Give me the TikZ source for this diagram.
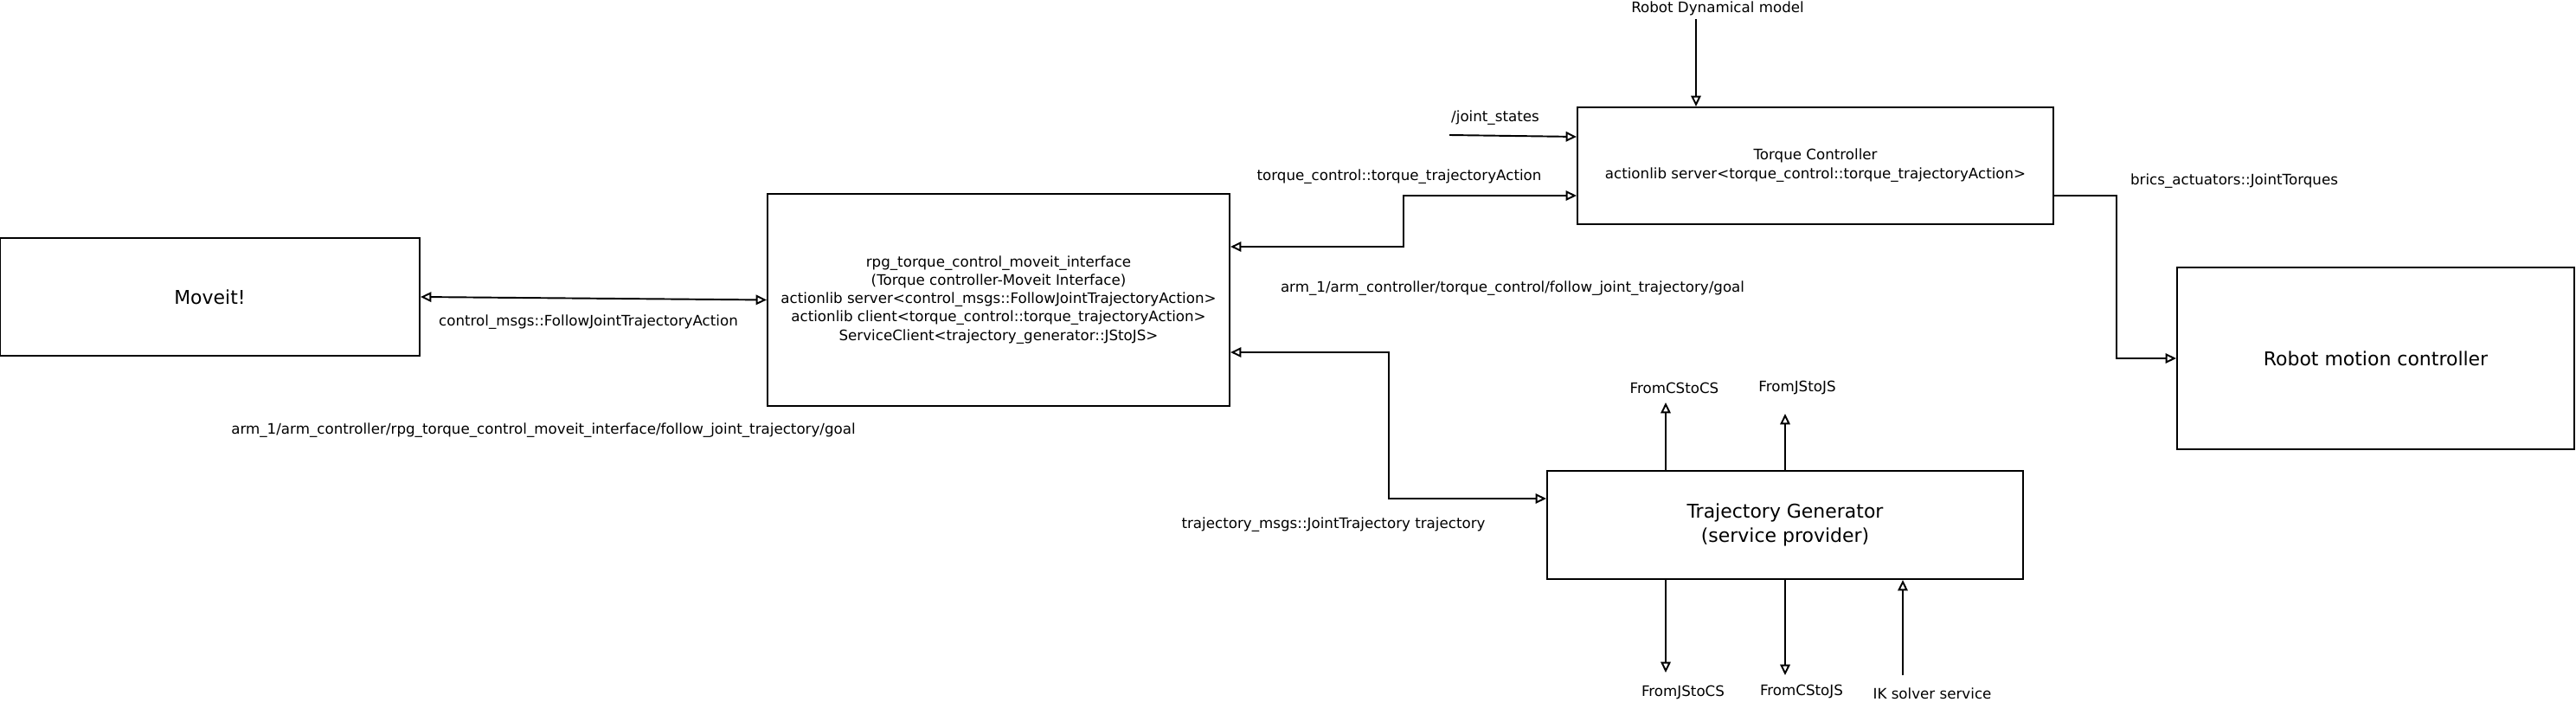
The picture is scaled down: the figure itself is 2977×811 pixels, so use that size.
\documentclass[tikz,border=0pt]{standalone}
\usepackage{fontspec}
\setmainfont{DejaVu Sans}
\usetikzlibrary{arrows.meta}
\tikzstyle{every node}=[font=\fontsize{9.5}{12}\selectfont]
\tikzstyle{block}=[rectangle,
                   draw=black,
                   line width=1.2pt,
                   align=center,
                   inner sep=0pt
                   ]
\tikzstyle{bigblock}=[block,
                      font=\fontsize{12.5}{16}\selectfont]
\tikzstyle{msg}=[inner sep=1pt]
\tikzstyle{link}=[line width=1.1pt]
\begin{document}
\begin{tikzpicture}[x=0.2mm,y=-0.2mm,>={Triangle[open,length=7pt,width=6.5pt]}]
\useasboundingbox (0,0) rectangle (2977,811);
\node (moveit)  [bigblock,minimum width=97mm,minimum height=27.2mm] at (242.5,343) {Moveit!};
\node (iface)   [block,minimum width=106.8mm,minimum height=49mm] at (1154,346.5)
  {rpg\_torque\_control\_moveit\_interface\\(Torque controller-Moveit Interface)\\actionlib server<control\_msgs::FollowJointTrajectoryAction>\\actionlib client<torque\_control::torque\_trajectoryAction>\\ServiceClient<trajectory\_generator::JStoJS>};
\node (torque)  [block,minimum width=110mm,minimum height=27mm,font=\fontsize{9.5}{12.5}\selectfont] at (2098,191.5)
  {Torque Controller\\actionlib server<torque\_control::torque\_trajectoryAction>};
\node (trajgen) [bigblock,minimum width=110mm,minimum height=25mm] at (2063,606.5) {Trajectory Generator\\(service provider)};
\node (motion)  [bigblock,minimum width=91.8mm,minimum height=42mm] at (2745.5,414) {Robot motion controller};
% labels
\node (ctrlmsg) [msg] at (680,372) {control\_msgs::FollowJointTrajectoryAction};
\node (goal1)   [msg] at (628,497) {arm\_1/arm\_controller/rpg\_torque\_control\_moveit\_interface/follow\_joint\_trajectory/goal};
\node (dyn)     [msg] at (1985,10) {Robot Dynamical model};
\node (joint)   [msg] at (1728,136) {/joint\_states};
\node (torqact) [msg] at (1617,204) {torque\_control::torque\_trajectoryAction};
\node (goal2)   [msg] at (1748,333) {arm\_1/arm\_controller/torque\_control/follow\_joint\_trajectory/goal};
\node (brics)   [msg] at (2582,209) {brics\_actuators::JointTorques};
\node (jtraj)   [msg] at (1541,606) {trajectory\_msgs::JointTrajectory trajectory};
\node (cs2cs)   [msg] at (1935,448) {FromCStoCS};
\node (js2js)   [msg] at (2077,448) {FromJStoJS};
\node (js2cs)   [msg] at (1945,800) {FromJStoCS};
\node (cs2js)   [msg] at (2082,799) {FromCStoJS};
\node (iksrv)   [msg] at (2233,801) {IK solver service};
% free ends
\coordinate (dynout) at (1960,22);
\coordinate (jsin)   at (1675,156);
\coordinate (csup)   at (1925,465);
\coordinate (jsup)   at (2063,478);
\coordinate (csdn)   at (1925,777);
\coordinate (jsdn)   at (2063,780);
\coordinate (ikin)   at (2199,780);
% connectors
 \path[<->] (moveit.east) edge[link] (iface.west);
 \draw[link,<->] ([yshift=12.3mm]iface.east) -- ++(200,0) |- ([yshift=-6.9mm]torque.west);
 \draw[link,<->] ([yshift=-12.1mm]iface.east) -- ++(183,0) |- ([yshift=6.1mm]trajgen.west);
 \draw[link,->] ([yshift=-6.9mm]torque.east) -- ++(72,0) |- (motion.west);
 \path[->] (dynout) edge[link] (dynout |- torque.north);
 \path[->] (jsin) edge[link] ([yshift=6.7mm]torque.west);
 \path[->] (csup |- trajgen.north) edge[link] (csup);
 \path[->] (jsup |- trajgen.north) edge[link] (jsup);
 \path[->] (csdn |- trajgen.south) edge[link] (csdn);
 \path[->] (jsdn |- trajgen.south) edge[link] (jsdn);
 \path[->] (ikin) edge[link] (ikin |- trajgen.south);
\end{tikzpicture}
\end{document}
